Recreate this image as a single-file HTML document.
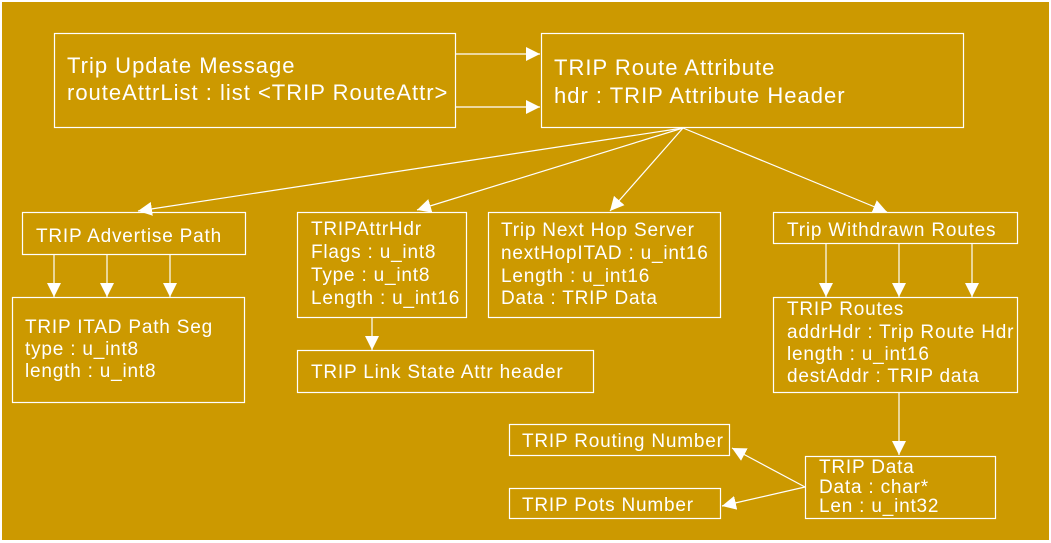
<!DOCTYPE html>
<html><head><meta charset="utf-8"><style>
html,body{margin:0;padding:0;background:#fff;}
svg{display:block;}
text{font-family:"Liberation Sans",Arial,sans-serif;fill:#fff;}
.b{fill:none;stroke:#fff;stroke-width:1.2;}
.l{stroke:#fff;stroke-width:1.2;fill:none;}
.big{font-size:22px;letter-spacing:1px;}
.sm{font-size:19px;letter-spacing:0.8px;}
</style></head><body>
<svg width="1051" height="543" viewBox="0 0 1051 543" xmlns="http://www.w3.org/2000/svg">
<defs>
<marker id="a" viewBox="0 0 14 14" refX="14" refY="7" markerWidth="14" markerHeight="14" markerUnits="userSpaceOnUse" orient="auto">
<path d="M0,0 L14,7 L0,14 z" fill="#fff"/>
</marker>
</defs>
<rect x="2" y="2" width="1047" height="538" fill="#cc9900"/>

<rect class="b" x="54.5" y="33.5" width="401" height="94"/>
<text class="big" x="67" y="73">Trip Update Message</text>
<text class="big" x="67" y="100">routeAttrList : list &lt;TRIP RouteAttr&gt;</text>

<rect class="b" x="541.5" y="33.5" width="422" height="94"/>
<text class="big" x="554" y="75">TRIP Route Attribute</text>
<text class="big" x="554" y="103">hdr : TRIP Attribute Header</text>

<line class="l" x1="455" y1="54" x2="540" y2="54" marker-end="url(#a)"/>
<line class="l" x1="455" y1="107" x2="540" y2="107" marker-end="url(#a)"/>

<line class="l" x1="683" y1="128" x2="138" y2="211" marker-end="url(#a)"/>
<line class="l" x1="683" y1="128" x2="417" y2="210" marker-end="url(#a)"/>
<line class="l" x1="683" y1="128" x2="610" y2="211" marker-end="url(#a)"/>
<line class="l" x1="683" y1="128" x2="887" y2="212" marker-end="url(#a)"/>

<rect class="b" x="22.5" y="212.5" width="223" height="42"/>
<text class="sm" x="36" y="242">TRIP Advertise Path</text>
<line class="l" x1="54" y1="254" x2="54" y2="297" marker-end="url(#a)"/>
<line class="l" x1="107" y1="254" x2="107" y2="297" marker-end="url(#a)"/>
<line class="l" x1="170" y1="254" x2="170" y2="297" marker-end="url(#a)"/>

<rect class="b" x="12.5" y="297.5" width="232" height="105"/>
<text class="sm" x="25" y="333">TRIP ITAD Path Seg</text>
<text class="sm" x="25" y="355">type : u_int8</text>
<text class="sm" x="25" y="377">length : u_int8</text>

<rect class="b" x="297.5" y="212.5" width="169" height="105"/>
<text class="sm" x="311" y="235">TRIPAttrHdr</text>
<text class="sm" x="311" y="258">Flags : u_int8</text>
<text class="sm" x="311" y="281">Type : u_int8</text>
<text class="sm" x="311" y="304">Length : u_int16</text>
<line class="l" x1="372" y1="317" x2="372" y2="350" marker-end="url(#a)"/>

<rect class="b" x="297.5" y="350.5" width="296" height="42"/>
<text class="sm" x="311" y="378">TRIP Link State Attr header</text>

<rect class="b" x="488.5" y="212.5" width="232" height="105"/>
<text class="sm" x="501" y="236">Trip Next Hop Server</text>
<text class="sm" x="501" y="259">nextHopITAD : u_int16</text>
<text class="sm" x="501" y="282">Length : u_int16</text>
<text class="sm" x="501" y="304">Data : TRIP Data</text>

<rect class="b" x="773.5" y="212.5" width="244" height="31"/>
<text class="sm" x="787" y="236">Trip Withdrawn Routes</text>
<line class="l" x1="826" y1="243" x2="826" y2="297" marker-end="url(#a)"/>
<line class="l" x1="899" y1="243" x2="899" y2="297" marker-end="url(#a)"/>
<line class="l" x1="972" y1="243" x2="972" y2="297" marker-end="url(#a)"/>

<rect class="b" x="773.5" y="297.5" width="244" height="95"/>
<text class="sm" x="787" y="315">TRIP Routes</text>
<text class="sm" x="787" y="338">addrHdr : Trip Route Hdr</text>
<text class="sm" x="787" y="360">length : u_int16</text>
<text class="sm" x="787" y="382">destAddr : TRIP data</text>
<line class="l" x1="899" y1="392" x2="899" y2="455" marker-end="url(#a)"/>

<rect class="b" x="805.5" y="456.5" width="190" height="62"/>
<text class="sm" x="819" y="473">TRIP Data</text>
<text class="sm" x="819" y="493">Data : char*</text>
<text class="sm" x="819" y="512">Len : u_int32</text>

<rect class="b" x="509.5" y="424.5" width="220" height="31"/>
<text class="sm" x="522" y="447">TRIP Routing Number</text>
<rect class="b" x="509.5" y="488.5" width="211" height="30"/>
<text class="sm" x="522" y="511">TRIP Pots Number</text>

<line class="l" x1="805" y1="487" x2="732" y2="448" marker-end="url(#a)"/>
<line class="l" x1="805" y1="487" x2="722" y2="506" marker-end="url(#a)"/>
</svg>
</body></html>
